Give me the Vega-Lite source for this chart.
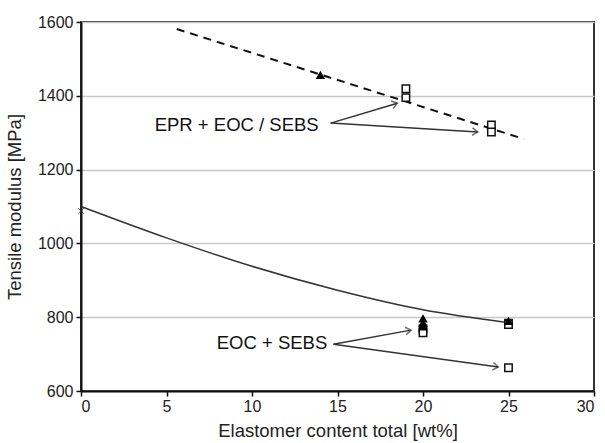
{
  "$schema": "https://vega.github.io/schema/vega-lite/v6.json",
  "width": 513,
  "height": 369,
  "autosize": {"type": "none"},
  "padding": {"left": 81, "top": 22, "right": 11, "bottom": 52},
  "background": "white",
  "config": {
    "view": {"stroke": "#333", "strokeWidth": 2},
    "font": "Liberation Sans",
    "axis": {"labelFont": "Liberation Sans", "titleFont": "Liberation Sans", "labelFontSize": 16, "titleFontSize": 18.5, "titleFontWeight": "normal", "labelColor": "#222", "titleColor": "#222", "format": "d"}
  },
  "datasets": {
    "points": [
      {"x": 14, "y": 1457, "type": "triangle"},
      {"x": 19, "y": 1419, "type": "square"},
      {"x": 19, "y": 1395, "type": "square"},
      {"x": 24, "y": 1321, "type": "square"},
      {"x": 24, "y": 1302, "type": "square"},
      {"x": 20, "y": 797, "type": "triangle"},
      {"x": 20, "y": 785, "type": "triangle"},
      {"x": 20, "y": 775, "type": "triangle"},
      {"x": 20, "y": 768, "type": "square"},
      {"x": 20, "y": 758, "type": "square"},
      {"x": 25, "y": 790, "type": "triangle"},
      {"x": 25, "y": 784, "type": "square"},
      {"x": 25, "y": 780, "type": "square"},
      {"x": 25, "y": 663, "type": "square"},
      {"x": 0, "y": 1088, "type": "cross"}
    ],
    "curve": [
      {"x": 0, "y": 1100},
      {"x": 5, "y": 1015},
      {"x": 10, "y": 938},
      {"x": 15, "y": 873},
      {"x": 20, "y": 820},
      {"x": 25, "y": 785}
    ],
    "dashed": [
      {"x": 5.6, "y": 1581},
      {"x": 25.9, "y": 1283}
    ],
    "arrows": [
      {"x": 14.6, "y": 1326, "x2": 18.5, "y2": 1380, "angle": -16.6},
      {"x": 14.6, "y": 1326, "x2": 23.2, "y2": 1302, "angle": 3.5},
      {"x": 14.76, "y": 727, "x2": 19.3, "y2": 765, "angle": -9.6},
      {"x": 14.76, "y": 727, "x2": 24.4, "y2": 665, "angle": 7.9}
    ],
    "labels": [
      {"x": 13.9, "y": 1321, "text": "EPR + EOC / SEBS"},
      {"x": 14.4, "y": 731, "text": "EOC + SEBS"}
    ]
  },
  "layer": [
    {
      "data": {"name": "curve"},
      "mark": {"type": "line", "interpolate": "monotone", "color": "#333", "strokeWidth": 1.5},
      "encoding": {
        "x": {"field": "x", "type": "quantitative", "scale": {"domain": [0, 30], "nice": false},
          "axis": {"title": "Elastomer content total [wt%]", "values": [0, 5, 10, 15, 20, 25, 30], "grid": false, "domainColor": "#111", "domainWidth": 2, "tickColor": "#111", "tickWidth": 1.5, "tickSize": 5, "labelPadding": 2, "titlePadding": 7}},
        "y": {"field": "y", "type": "quantitative", "scale": {"domain": [600, 1600], "nice": false},
          "axis": {"title": "Tensile modulus [MPa]", "values": [600, 800, 1000, 1200, 1400, 1600], "grid": true, "gridColor": "#c8c8c8", "gridWidth": 1.5, "domainColor": "#111", "domainWidth": 2, "tickColor": "#111", "tickWidth": 1.5, "tickSize": 5, "labelPadding": 3, "titlePadding": 13}}
      }
    },
    {
      "data": {"name": "dashed"},
      "mark": {"type": "line", "color": "#111", "strokeWidth": 2, "strokeDash": [8, 6]},
      "encoding": {
        "x": {"field": "x", "type": "quantitative"},
        "y": {"field": "y", "type": "quantitative"}
      }
    },
    {
      "data": {"name": "arrows"},
      "mark": {"type": "rule", "color": "#333", "strokeWidth": 1.5},
      "encoding": {
        "x": {"field": "x", "type": "quantitative"},
        "y": {"field": "y", "type": "quantitative"},
        "x2": {"field": "x2"},
        "y2": {"field": "y2"}
      }
    },
    {
      "data": {"name": "arrows"},
      "mark": {"type": "point", "shape": "M-1,-0.7L0,0L-1,0.7", "filled": false, "color": "#333", "strokeWidth": 1.5, "size": 120},
      "encoding": {
        "x": {"field": "x2", "type": "quantitative"},
        "y": {"field": "y2", "type": "quantitative"},
        "angle": {"field": "angle", "type": "quantitative", "scale": null}
      }
    },
    {
      "data": {"name": "points"},
      "transform": [{"filter": "datum.type == 'square'"}],
      "mark": {"type": "point", "shape": "square", "filled": true, "fill": "white", "stroke": "#111", "strokeWidth": 1.5, "size": 55, "opacity": 1},
      "encoding": {
        "x": {"field": "x", "type": "quantitative"},
        "y": {"field": "y", "type": "quantitative"}
      }
    },
    {
      "data": {"name": "points"},
      "transform": [{"filter": "datum.type == 'triangle'"}],
      "mark": {"type": "point", "shape": "triangle-up", "filled": true, "color": "#000", "size": 90, "opacity": 1},
      "encoding": {
        "x": {"field": "x", "type": "quantitative"},
        "y": {"field": "y", "type": "quantitative"}
      }
    },
    {
      "data": {"name": "points"},
      "transform": [{"filter": "datum.type == 'cross'"}],
      "mark": {"type": "point", "shape": "M-1,-1L1,1M-1,1L1,-1", "filled": false, "color": "#333", "strokeWidth": 1, "size": 30},
      "encoding": {
        "x": {"field": "x", "type": "quantitative"},
        "y": {"field": "y", "type": "quantitative"}
      }
    },
    {
      "data": {"name": "labels"},
      "mark": {"type": "text", "align": "right", "baseline": "middle", "fontSize": 18.5, "font": "Liberation Sans", "color": "#111"},
      "encoding": {
        "x": {"field": "x", "type": "quantitative"},
        "y": {"field": "y", "type": "quantitative"},
        "text": {"field": "text"}
      }
    }
  ]
}
